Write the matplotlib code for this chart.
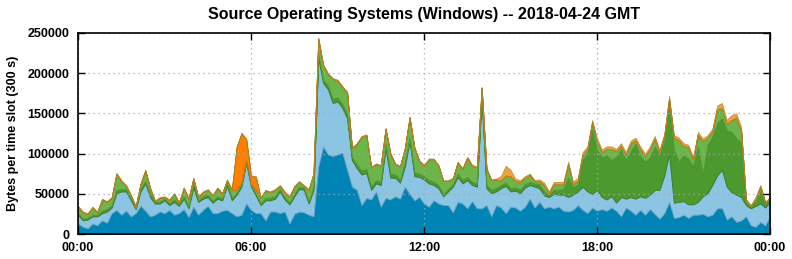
"""Source Operating Systems (Windows) - stacked traffic per time slot."""

import numpy as np
import matplotlib.pyplot as plt

plt.rcParams['font.family'] = ['Liberation Sans Narrow', 'Liberation Sans', 'DejaVu Sans']
plt.rcParams['font.weight'] = 'bold'

hours = np.arange(145) / 6.0

win_a = [13, 9, 7, 13, 11, 17, 14, 26, 30, 24, 29, 22, 26, 35, 29, 22, 24, 28, 26, 30, 24, 26, 31, 21, 34,
         24, 30, 35, 26, 26, 29, 30, 26, 22, 24, 38, 30, 26, 26, 17, 28, 28, 26, 28, 13, 25, 28, 27, 24,
         22, 84, 109, 99, 97, 99, 101, 80, 59, 55, 36, 45, 43, 53, 34, 45, 43, 47, 44, 59, 50, 42, 46, 38,
         34, 42, 38, 36, 36, 27, 40, 38, 32, 41, 32, 32, 36, 22, 36, 33, 26, 34, 33, 29, 34, 44, 33, 40,
         32, 34, 32, 34, 29, 28, 30, 36, 30, 26, 33, 29, 31, 29, 33, 29, 22, 33, 29, 24, 30, 24, 31, 25,
         19, 26, 40, 20, 21, 24, 20, 24, 24, 25, 22, 24, 32, 32, 18, 22, 15, 17, 22, 11, 9, 15, 11, 22]
win_b = [11, 8, 11, 9, 11, 9, 14, 7, 21, 29, 24, 20, 5, 18, 34, 24, 14, 10, 16, 6, 16, 9, 13, 11, 24,
         16, 14, 11, 13, 18, 13, 30, 16, 27, 35, 51, 29, 22, 10, 25, 14, 16, 27, 15, 24, 22, 28, 28, 14,
         33, 135, 79, 81, 66, 66, 56, 64, 33, 27, 38, 31, 12, 10, 27, 62, 27, 23, 20, 25, 65, 30, 25, 30,
         29, 19, 19, 11, 17, 32, 31, 25, 35, 20, 27, 137, 21, 29, 17, 24, 34, 19, 21, 22, 24, 17, 26, 17,
         16, 12, 18, 15, 20, 18, 19, 17, 29, 27, 17, 26, 15, 14, 14, 10, 24, 11, 17, 20, 17, 21, 18, 30,
         36, 47, 60, 19, 19, 17, 17, 13, 16, 22, 29, 37, 41, 48, 41, 30, 34, 29, 14, 21, 26, 23, 22, 18]
win_c = [2, 2, 2, 2, 2, 3, 3, 3, 4, 3, 3, 2, 1, 3, 3, 3, 2, 2, 2, 2, 3, 2, 3, 2, 4,
         2, 3, 3, 2, 3, 2, 3, 3, 2, 2, 1, 2, 2, 2, 3, 3, 3, 3, 3, 2, 3, 3, 3, 3,
         3, 4, 4, 5, 5, 5, 5, 5, 4, 5, 5, 5, 4, 4, 4, 5, 5, 4, 4, 5, 5, 5, 4, 4,
         4, 4, 4, 3, 3, 3, 4, 4, 4, 4, 4, 4, 4, 4, 4, 4, 4, 4, 4, 4, 4, 4, 4, 5,
         5, 3, 5, 6, 7, 24, 9, 9, 33, 47, 80, 50, 49, 55, 45, 57, 59, 48, 57, 68, 50, 45, 46, 54,
         43, 42, 60, 66, 50, 57, 57, 47, 69, 28, 60, 60, 65, 64, 70, 75, 70, 68, 3, 2, 5, 15, 4, 3]
win_d = [8, 8, 5, 9, 3, 14, 9, 9, 20, 10, 4, 4, 2, 6, 13, 8, 1, 5, 2, 4, 7, 2, 10, 10, 7,
         4, 5, 6, 7, 10, 6, 4, 10, 4, 3, 2, 1, 5, 7, 9, 7, 8, 4, 6, 7, 9, 6, 2, 14,
         17, 20, 18, 14, 25, 21, 21, 27, 11, 25, 42, 42, 24, 20, 20, 19, 25, 13, 16, 17, 25, 30, 16, 13,
         26, 28, 24, 16, 10, 7, 14, 14, 24, 20, 20, 9, 20, 12, 11, 6, 9, 15, 8, 10, 8, 9, 3, 4,
         8, 2, 7, 7, 6, 17, 4, 5, 7, 6, 9, 11, 7, 8, 14, 7, 5, 7, 10, 5, 9, 7, 11, 10,
         4, 7, 8, 15, 27, 12, 14, 9, 15, 41, 9, 7, 17, 13, 8, 15, 26, 14, 3, 1, 4, 6, 2, 2]
win_e = [0] * 33 + [53, 61, 26, 10, 16] + [0] * 107
win_f = [1, 1, 1, 1, 1, 1, 1, 1, 1, 1, 1, 1, 1, 1, 1, 1, 1, 1, 1, 1, 1, 1, 1, 1, 1,
         1, 1, 1, 1, 1, 1, 1, 1, 1, 1, 1, 1, 1, 1, 1, 1, 1, 1, 1, 1, 1, 1, 1, 1,
         1, 1, 1, 1, 1, 1, 1, 1, 1, 1, 1, 1, 1, 1, 1, 1, 1, 1, 1, 1, 1, 1, 1, 1,
         1, 1, 1, 1, 1, 1, 1, 1, 1, 1, 1, 1, 1, 1, 1, 5, 12, 8, 3, 2, 2, 1, 1, 2,
         3, 2, 3, 3, 3, 3, 3, 3, 3, 3, 3, 3, 3, 3, 3, 3, 3, 3, 3, 3, 3, 3, 3, 3,
         3, 3, 4, 3, 3, 3, 3, 3, 3, 3, 3, 3, 5, 6, 5, 6, 5, 5, 2, 1, 2, 2, 1, 1]

series = [win_a, win_b, win_c, win_d, win_e, win_f]
fills = ['#0083b5', '#8cc4e3', '#4c9a2e', '#6cb54a', '#ff8000', '#eba23c']
edges = ['#006a94', '#6ea8c8', '#3d7f24', '#58993a', '#d86a00', '#a8842c']
widths = [0.7, 0.7, 0.7, 0.7, 0.6, 0.4]

xticks = [0, 6, 12, 18, 24]
xtick_labels = ['00:00', '06:00', '12:00', '18:00', '00:00']
yticks = [0, 50000, 100000, 150000, 200000, 250000]

fig = plt.figure(figsize=(7.92, 2.59), dpi=100)
ax = fig.add_axes([0.0985, 0.0965, 0.8737, 0.7761])

values = [np.array(s) * 1000.0 for s in series]
polys = ax.stackplot(hours, *values, colors=fills)
for poly, ec, lw in zip(polys, edges, widths):
    poly.set_edgecolor(ec)
    poly.set_linewidth(lw)

ax.set_xlim(0, 24)
ax.set_ylim(0, 250000)
ax.set_xticks(xticks)
ax.set_xticklabels(xtick_labels)
ax.set_yticks(yticks)
ax.set_yticklabels([str(v) for v in yticks])
ax.tick_params(direction='in', length=5, width=1, top=True, right=True, labelsize=9, pad=6)
ax.grid(True, color='#a8a8a8', linestyle=(0, (1, 3)), linewidth=0.9)
for sp in ax.spines.values():
    sp.set_linewidth(1.2)

ax.set_ylabel('Bytes per time slot (300 s)', fontsize=9, fontweight='bold', labelpad=6)
ax.set_title('Source Operating Systems (Windows) -- 2018-04-24 GMT', fontsize=11.5, fontweight='bold', pad=10)

fig.savefig('out.png', dpi=100)
